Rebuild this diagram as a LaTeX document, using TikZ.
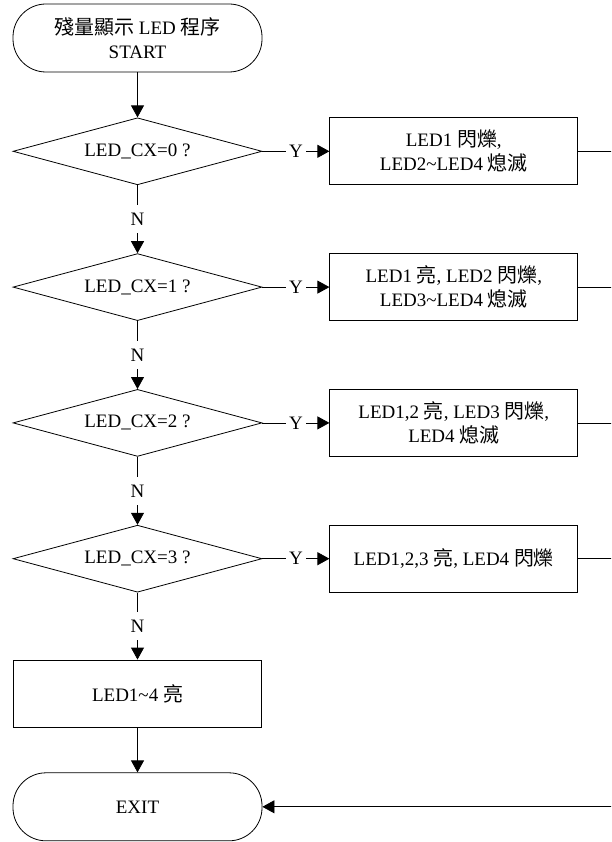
\documentclass[tikz,border=0pt]{standalone}
\usepackage{fontspec}
\setmainfont{Liberation Serif}
\newfontfamily\cjkfont{Noto Sans CJK TC}[Scale=1.05]
\newcommand{\zh}[1]{{\cjkfont #1}}
\usetikzlibrary{arrows.meta,positioning,shapes.geometric}
\definecolor{ink}{HTML}{000000}
\tikzset{
  flowfont/.style={font=\fontsize{19}{24}\selectfont},
  termbox/.style={
    rectangle, rounded corners=33pt, draw=ink, line width=0.8pt,
    minimum width=249pt, minimum height=68pt,
    align=center, flowfont
  },
  decbox/.style={
    diamond, draw=ink, line width=0.8pt, aspect=3.7, inner sep=0pt,
    minimum width=249pt, minimum height=67pt, flowfont
  },
  actbox/.style={
    rectangle, draw=ink, line width=0.8pt,
    minimum width=248pt, minimum height=67pt,
    align=center, flowfont
  },
  flowarrow/.style={
    -{Triangle[length=12pt,width=13pt]}, line width=0.8pt, color=ink
  },
  flowline/.style={line width=0.8pt, color=ink},
  yn/.style={midway, fill=white, inner xsep=3pt, inner ysep=8pt, flowfont},
}
\begin{document}
\begin{tikzpicture}[x=1pt,y=-1pt]
\useasboundingbox (0,0) rectangle (611,842);
\clip (0,0) rectangle (611,842);
\node[termbox] (start) at (137.5,38) {\zh{殘量顯示} LED \zh{程序}\\START};
\node[decbox, below=45pt of start] (cx0) {LED\_CX=0 ?};
\node[decbox, below=68pt of cx0] (cx1) {LED\_CX=1 ?};
\node[decbox, below=68pt of cx1] (cx2) {LED\_CX=2 ?};
\node[decbox, below=68pt of cx2] (cx3) {LED\_CX=3 ?};
\node[actbox, below=67pt of cx3] (allon) {LED1\textasciitilde 4 \zh{亮}};
\node[termbox, below=45pt of allon] (exit) {EXIT};
\node[actbox, right=67pt of cx0] (act0) {LED1 \zh{閃爍},\\LED2\textasciitilde LED4 \zh{熄滅}};
\node[actbox, right=67pt of cx1] (act1) {LED1 \zh{亮}, LED2 \zh{閃爍},\\LED3\textasciitilde LED4 \zh{熄滅}};
\node[actbox, right=67pt of cx2] (act2) {LED1,2 \zh{亮}, LED3 \zh{閃爍},\\LED4 \zh{熄滅}};
\node[actbox, right=67pt of cx3] (act3) {LED1,2,3 \zh{亮}, LED4 \zh{閃爍}};
\coordinate (back) at ([xshift=354pt]exit.east);
% main column
\draw[flowarrow] (start) -- (cx0);
\draw[flowarrow] (cx0) -- node[yn] {N} (cx1);
\draw[flowarrow] (cx1) -- node[yn] {N} (cx2);
\draw[flowarrow] (cx2) -- node[yn] {N} (cx3);
\draw[flowarrow] (cx3) -- node[yn] {N} (allon);
\draw[flowarrow] (allon) -- (exit);
% yes branches
\draw[flowarrow] (cx0) -- node[yn] {Y} (act0);
\draw[flowarrow] (cx1) -- node[yn] {Y} (act1);
\draw[flowarrow] (cx2) -- node[yn] {Y} (act2);
\draw[flowarrow] (cx3) -- node[yn] {Y} (act3);
% return to exit
\draw[flowline] (act0.east) -| (back);
\draw[flowline] (act1.east) -| (back);
\draw[flowline] (act2.east) -| (back);
\draw[flowline] (act3.east) -| (back);
\draw[flowarrow] (back) -- (exit.east);
\end{tikzpicture}
\end{document}
